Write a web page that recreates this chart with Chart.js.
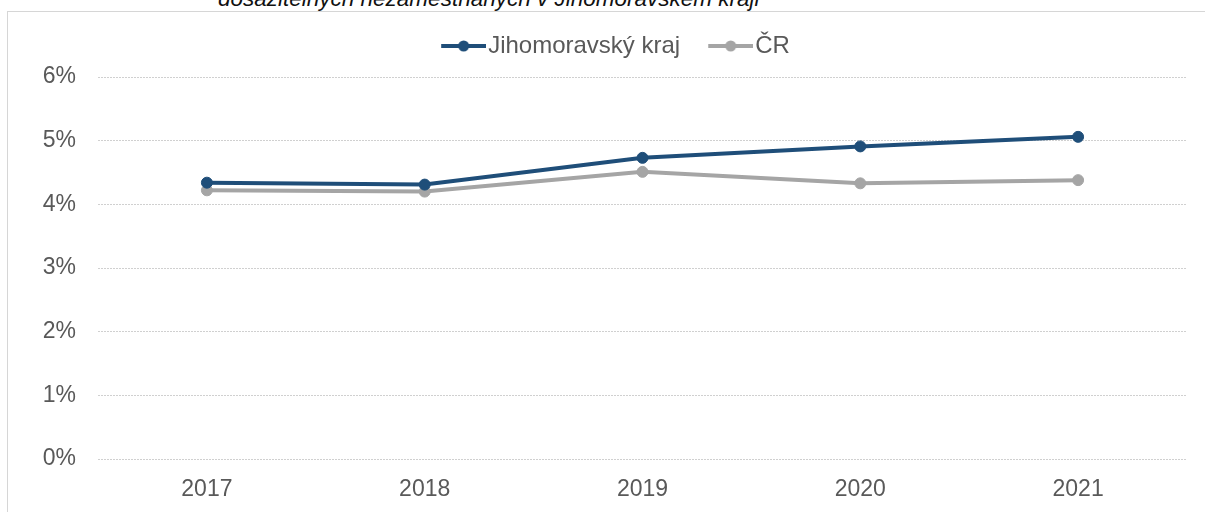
<!DOCTYPE html>
<html lang="cs">
<head>
<meta charset="utf-8">
<script src="https://cdn.jsdelivr.net/npm/chart.js@4.4.1/dist/chart.umd.min.js"></script>
<style>
  html, body { margin: 0; padding: 0; background: #fff; overflow: hidden; }
  #wrap { position: relative; width: 1205px; height: 512px; overflow: hidden; }
  #frame {
    position: absolute; left: 7px; top: 11px; width: 1300px; height: 600px;
    border-left: 1px solid #d6d6d6; border-top: 1px solid #d6d6d6;
  }
  #caption {
    position: absolute; left: 218px; top: -12px; white-space: nowrap;
    font: italic 22.5px/1 "Liberation Sans", Arial, sans-serif; color: #111;
  }
  #myChart { position: absolute; left: 0; top: 0; }
</style>
</head>
<body>
<div id="wrap">
  <div id="frame"></div>
  <div id="caption">dosažitelných nezaměstnaných v Jihomoravském kraji</div>
  <canvas id="myChart" width="1205" height="512"></canvas>
</div>
<script>
const years = ["2017", "2018", "2019", "2020", "2021"];
const jihomoravskyKraj = [4.34, 4.31, 4.73, 4.91, 5.06];
const ceskaRepublika = [4.22, 4.2, 4.51, 4.33, 4.38];
const seriesNames = ["Jihomoravský kraj", "ČR"];
const seriesColors = ["#1f4e79", "#a5a5a5"];
const yMin = 0;
const yMax = 6;
const yStep = 1;

const fontFamily = "'Liberation Sans', Arial, sans-serif";
const textColor = "#595959";

// znacka v legende: cara s teckou uprostred
function legendMark(color) {
  const c = document.createElement("canvas");
  c.width = 73;
  c.height = 14;
  const g = c.getContext("2d");
  g.strokeStyle = color;
  g.lineWidth = 4;
  g.beginPath();
  g.moveTo(28, 7);
  g.lineTo(73, 7);
  g.stroke();
  g.fillStyle = color;
  g.beginPath();
  g.arc(50.5, 7, 5.5, 0, Math.PI * 2);
  g.fill();
  return c;
}
const legendMarks = seriesColors.map(legendMark);

// posun legendy tam, kde je v predloze
const legendShift = {
  id: "legendShift",
  beforeInit(chart) {
    const legend = chart.legend;
    const fit = legend.fit;
    legend.fit = function () {
      fit.call(this);
      this.height = 77;
    };
    const draw = legend.draw;
    legend.draw = function () {
      this.top += 24;
      this.left += 13;
      this.right += 13;
      draw.call(this);
      this.top -= 24;
      this.left -= 13;
      this.right -= 13;
    };
  },
};

function dataset(i, values) {
  return {
    label: seriesNames[i],
    data: values,
    borderColor: seriesColors[i],
    backgroundColor: seriesColors[i],
    pointBackgroundColor: seriesColors[i],
    pointBorderColor: seriesColors[i],
    borderWidth: 4,
    pointRadius: 5.5,
    pointBorderWidth: 1,
    tension: 0,
    fill: false,
  };
}

const cfg = {
  type: "line",
  data: {
    labels: years,
    datasets: [dataset(0, jihomoravskyKraj), dataset(1, ceskaRepublika)],
  },
  options: {
    responsive: false,
    animation: false,
    layout: { padding: { left: 0, right: 18, top: 0, bottom: 0 } },
    plugins: {
      tooltip: { enabled: false },
      legend: {
        position: "top",
        labels: {
          usePointStyle: true,
          pointStyleWidth: 53,
          padding: 10,
          color: textColor,
          font: { family: fontFamily, size: 24 },
          generateLabels(chart) {
            const items = Chart.defaults.plugins.legend.labels.generateLabels(chart);
            items.forEach((item, i) => {
              item.pointStyle = legendMarks[i];
            });
            return items;
          },
        },
      },
    },
    scales: {
      x: {
        offset: true,
        grid: { display: false, drawTicks: false },
        border: { display: false },
        ticks: {
          color: textColor,
          font: { family: fontFamily, size: 23 },
          padding: 17,
        },
        afterFit(scale) {
          scale.height = 53;
        },
      },
      y: {
        min: yMin,
        max: yMax,
        grid: { color: "#d0d0d0", lineWidth: 1, drawTicks: false },
        border: { display: false, dash: [2, 1] },
        ticks: {
          stepSize: yStep,
          padding: 22,
          color: textColor,
          font: { family: fontFamily, size: 23 },
          callback: (v) => v + "%",
        },
        afterFit(scale) {
          scale.width = 98;
        },
      },
    },
  },
  plugins: [legendShift],
};

const ctx = document.getElementById("myChart");
new Chart(ctx, cfg);
</script>
</body>
</html>
